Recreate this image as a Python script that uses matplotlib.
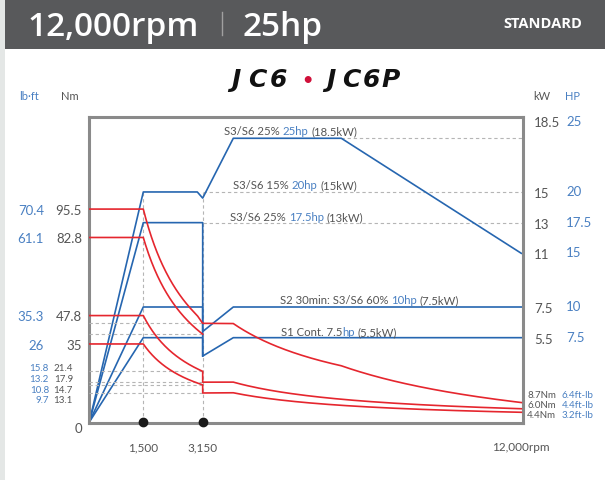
import numpy as np
import matplotlib
matplotlib.use("Agg")
import matplotlib.pyplot as plt
import matplotlib.transforms as mtransforms
from matplotlib.patches import Rectangle
from matplotlib.lines import Line2D

# 출력 크기 (픽셀)
W, H = 605, 481

# 출력 곡선 (kW) - 회전수 구간별 꺾이는 점
rpm_15 = [0, 1500, 3000, 3150, 4000, 7000, 12000]
kw_15 = [0, 15, 15, 14.6, 18.5, 18.5, 11]
rpm_13 = [0, 1500, 3150, 3150]
kw_13 = [0, 13, 13, 4.3]
rpm_75 = [0, 1500, 3150, 3150, 4000, 12000]
kw_75 = [0, 7.5, 7.5, 5.9, 7.5, 7.5]
rpm_55 = [0, 1500, 3150, 3150, 4000, 12000]
kw_55 = [0, 5.5, 5.5, 4.3, 5.5, 5.5]

# 보조 점선
kw_guides = [18.5, 15, 13]
kw_guide_start = [7000, 3150, 3150]
nm_guides = [44.2, 39.4, 22.7, 17.9, 16.7, 13.1]
rpm_marks = [1500, 3150]

# 축 라벨
left_nm = [95.5, 82.8, 47.8, 35]
left_lbft = ["70.4", "61.1", "35.3", "26"]
small_nm = ["21.4", "17.9", "14.7", "13.1"]
small_lbft = ["15.8", "13.2", "10.8", "9.7"]
right_kw = ["18.5", "15", "13", "11", "7.5", "5.5"]
right_kw_y = [19.6, 15, 13, 11, 7.5, 5.5]
right_hp = ["25", "20", "17.5", "15", "10", "7.5"]
end_nm = ["8.7Nm", "6.0Nm", "4.4Nm"]
end_lbft = ["6.4ft-lb", "4.4ft-lb", "3.2ft-lb"]
x_labels = ["1,500", "3,150", "12,000rpm"]
x_label_pos = [1500, 3150, 12000]
title_chars = ["J", "C", "6", "•", "J", "C", "6", "P"]
title_x = [236, 257, 278, 307, 331, 351, 371, 391]

RED = "#e5262e"
BLUE = "#2666b0"
LBLUE = "#4a80c2"
GRAY = "#555555"
DASH = "#b5b5b5"
FONT = ["Lato", "DejaVu Sans"]


def torque(rpm, kw):
    # 토크 = 9549 * kW / rpm
    xs, ys = [], []
    for n0, p0, n1, p1 in zip(rpm[:-1], kw[:-1], rpm[1:], kw[1:]):
        if n1 == n0:
            n = np.array([n0, n1], float)
            p = np.array([p0, p1], float)
        else:
            n = np.linspace(n0, n1, 80)
            p = p0 + (p1 - p0) * (n - n0) / (n1 - n0)
        safe = np.maximum(n, 1)
        t = np.where(n > 0, 9549 * p / safe, 9549 * (p1 - p0) / max(n1 - n0, 1))
        xs.append(n)
        ys.append(t)
    return np.concatenate(xs), np.concatenate(ys)


fig = plt.figure(figsize=(W / 100, H / 100), dpi=100)
fig.patch.set_facecolor("white")

# 헤더 & 왼쪽 띠
fig.add_artist(Rectangle((0, 0), 5 / W, 1, transform=fig.transFigure, color="#e4e7e6", lw=0))
fig.add_artist(Rectangle((5 / W, 1 - 50 / H), 1, 50 / H, transform=fig.transFigure, color="#58595b", lw=0))
fig.text(27 / W, 1 - 36 / H, "12,000rpm", color="white", fontsize=24, family=["Open Sans", "DejaVu Sans"],
         weight="semibold", va="baseline")
fig.add_artist(Line2D([222 / W, 222 / W], [1 - 13 / H, 1 - 36 / H], transform=fig.transFigure, color="#a0a0a0", lw=1))
fig.text(243 / W, 1 - 36 / H, "25hp", color="white", fontsize=24, family=["Open Sans", "DejaVu Sans"],
         weight="semibold", va="baseline")
fig.text(582 / W, 1 - 28 / H, "STANDARD", color="white", fontsize=10.5, family=["Open Sans", "DejaVu Sans"],
         weight="bold", va="baseline", ha="right")

ax = fig.add_axes([88.5 / W, 1 - 423.5 / H, (523 - 88.5) / W, 306 / H])
ax.set_xlim(-22, 12047)
ax.set_ylim(-0.03, 19.92)
ax2 = ax.twinx()
ax2.set_ylim(-0.2, 137.0)
for a in (ax, ax2):
    a.set_xticks([])
    a.set_yticks([])
for s in ax2.spines.values():
    s.set_visible(False)
for s in ax.spines.values():
    s.set_color("#8a8a8a")
    s.set_linewidth(2.2)
    s.set_zorder(10)

# 점선
dash = dict(color=DASH, lw=0.8, dashes=(3, 2.5), zorder=1)
for r in rpm_marks:
    ax.plot([r, r], [0, 15], **dash)
for v, s0 in zip(kw_guides, kw_guide_start):
    ax.plot([s0, 12047], [v, v], **dash)
for v in nm_guides:
    ax2.plot([0, 3150], [v, v], **dash)

# 출력 곡선 (파랑)
for r, k in [(rpm_15, kw_15), (rpm_13, kw_13), (rpm_75, kw_75), (rpm_55, kw_55)]:
    ax.plot(r, k, color=BLUE, lw=1.2, zorder=3)

# 토크 곡선 (빨강)
for r, k in [(rpm_15, kw_15), (rpm_13[:3], kw_13[:3]), (rpm_75, kw_75), (rpm_55, kw_55)]:
    tx, ty = torque(r, k)
    ax2.plot(tx, ty, color=RED, lw=1.2, zorder=4)

ax2.plot(rpm_marks, [0, 0], "o", color="#1a1a1a", ms=6, clip_on=False, zorder=20)

renderer = fig.canvas.get_renderer()


def rich(xp, yp, parts, size, family=FONT, **kw):
    # 여러 색 텍스트, 좌표는 픽셀(위에서부터)
    base = fig.transFigure
    acc = ""

    def width(s):
        t = fig.text(0, 0, s, fontsize=size, family=family, **kw)
        w = t.get_window_extent(renderer=renderer).width
        t.remove()
        return w

    for s, c in parts:
        acc += s
        piece = s.strip()
        dx = width(acc.rstrip()) - width(piece)
        fig.text(xp / W, 1 - yp / H, piece, color=c, fontsize=size, family=family, va="baseline",
                 ha="left", transform=mtransforms.offset_copy(base, x=dx, units="dots"), **kw)


# 제목 (글자 간격 넓은 로고)
for ch, x in zip(title_chars, title_x):
    red = ch == "•"
    fig.text(x / W, 1 - 87 / H, ch, color="#d0103a" if red else "#111111", fontsize=14 if red else 18,
             family=["DejaVu Sans"], weight="bold", style="normal" if red else "italic",
             ha="center", va="baseline")

# 곡선 라벨
rich(224, 135, [("S3/S6 25% ", GRAY), ("25hp ", LBLUE), ("(18.5kW)", GRAY)], 8.2)
rich(233, 189, [("S3/S6 15% ", GRAY), ("20hp ", LBLUE), ("(15kW)", GRAY)], 8.2)
rich(230, 221, [("S3/S6 25% ", GRAY), ("17.5hp ", LBLUE), ("(13kW)", GRAY)], 8.2)
rich(280, 304, [("S2 30min: S3/S6 60% ", GRAY), ("10hp ", LBLUE), ("(7.5kW)", GRAY)], 8.2)
rich(281, 336, [("S1 Cont. 7.5", GRAY), ("hp ", LBLUE), ("(5.5kW)", GRAY)], 8.2)

# 단위
fig.text(29 / W, 1 - 97 / H, "lb·ft", color=LBLUE, fontsize=8, family=FONT, ha="center", va="center")
fig.text(70 / W, 1 - 97 / H, "Nm", color=GRAY, fontsize=8, family=FONT, ha="center", va="center")
fig.text(542 / W, 1 - 97 / H, "kW", color=GRAY, fontsize=8, family=FONT, ha="center", va="center")
fig.text(572 / W, 1 - 97 / H, "HP", color=LBLUE, fontsize=8, family=FONT, ha="center", va="center")

# 왼쪽 토크 라벨
tl = mtransforms.blended_transform_factory(fig.transFigure, ax2.transData)
for v, lb in zip(left_nm, left_lbft):
    fig.text(82 / W, v, f"{v:g}", transform=tl, color=GRAY, fontsize=9.5, family=FONT,
             ha="right", va="center_baseline")
    fig.text(44 / W, v, lb, transform=tl, color=LBLUE, fontsize=9.5, family=FONT,
             ha="right", va="center_baseline")
for i, (nm, lb) in enumerate(zip(small_nm, small_lbft)):
    y = 1 - (371.5 + 10.6 * i) / H
    fig.text(73 / W, y, nm, color=GRAY, fontsize=7, family=FONT, ha="right", va="baseline")
    fig.text(49 / W, y, lb, color=LBLUE, fontsize=7, family=FONT, ha="right", va="baseline")
fig.text(82 / W, 1 - 433 / H, "0", color=GRAY, fontsize=9.5, family=FONT, ha="right", va="baseline")

# 오른쪽 출력 라벨
tr = mtransforms.blended_transform_factory(fig.transFigure, ax.transData)
for k, y, hp in zip(right_kw, right_kw_y, right_hp):
    fig.text(534 / W, y, k, transform=tr, color=GRAY, fontsize=9.5, family=FONT, ha="left", va="center_baseline")
    fig.text(566 / W, y + 0.12, hp, transform=tr, color=LBLUE, fontsize=9.5, family=FONT, ha="left",
             va="center_baseline")

for i, (nm, lb) in enumerate(zip(end_nm, end_lbft)):
    y = 1 - (398 + 10 * i) / H
    fig.text(527 / W, y, nm, color=GRAY, fontsize=7, family=FONT, ha="left", va="baseline")
    fig.text(562 / W, y, lb, color=LBLUE, fontsize=7, family=FONT, ha="left", va="baseline")

# 아래 회전수 라벨
tb = mtransforms.blended_transform_factory(ax.transData, fig.transFigure)
for x, s in zip(x_label_pos, x_labels):
    fig.text(x, 1 - 451 / H, s, transform=tb, color=GRAY, fontsize=8.5, family=FONT, ha="center", va="baseline")

fig.savefig("out.png", dpi=100)
